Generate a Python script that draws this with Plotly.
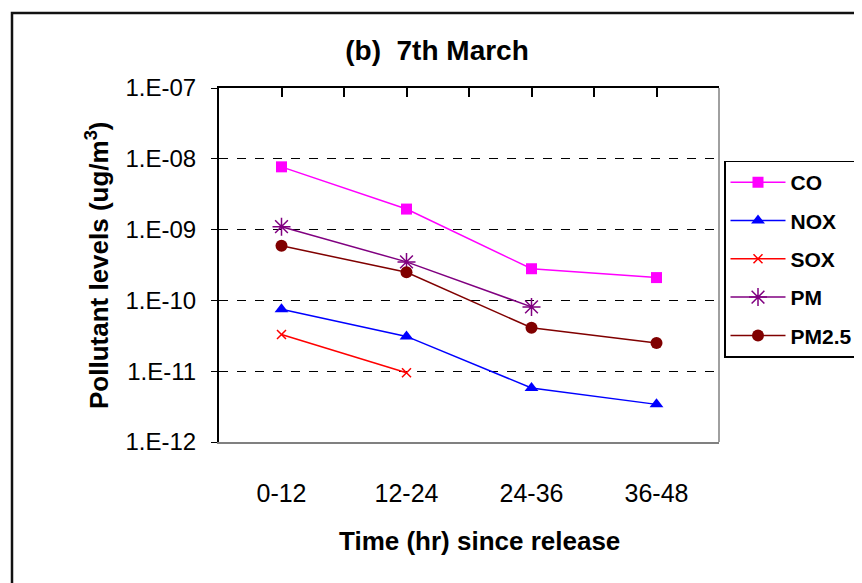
import plotly.graph_objects as go

categories = ["0-12", "12-24", "24-36", "36-48"]
co = [7.7e-9, 1.95e-9, 2.8e-10, 2.1e-10]
nox = [7.5e-11, 3.1e-11, 5.8e-12, 3.4e-12]
sox = [3.3e-11, 9.5e-12, None, None]
pm = [1.1e-9, 3.5e-10, 8.1e-11, None]
pm25 = [5.9e-10, 2.5e-10, 4.1e-11, 2.5e-11]

ytick_vals = [1e-12, 1e-11, 1e-10, 1e-9, 1e-8, 1e-7]
ytick_text = ["1.E-12", "1.E-11", "1.E-10", "1.E-09", "1.E-08", "1.E-07"]
top_tick_vals = [0, 0.5, 1, 1.5, 2, 2.5, 3]

FONT = "Liberation Sans, Arial, sans-serif"
OFF = 8  # page body margin

series = [
    ("CO", co, "#FF00FF", dict(symbol="square", size=11)),
    ("NOX", nox, "#0000FF", dict(symbol="triangle-up", size=12)),
    ("SOX", sox, "#FF0000", dict(symbol="x-thin-open", size=9, line=dict(width=1.5, color="#FF0000"))),
    ("PM", pm, "#800080", dict(symbol="asterisk-open", size=15, line=dict(width=1.5, color="#800080"))),
    ("PM2.5", pm25, "#800000", dict(symbol="circle", size=12)),
]

fig = go.Figure()
for i, (name, vals, color, mk) in enumerate(series):
    fig.add_trace(go.Scatter(
        x=categories, y=vals, name=name, mode="lines+markers",
        line=dict(color=color, width=1.5),
        marker=dict(color=color, **mk),
        legendgroup=f"g{i}", connectgaps=False,
    ))
# empty trace so the top (crossing) axis is drawn
fig.add_trace(go.Scatter(x=[], y=[], xaxis="x2", yaxis="y", showlegend=False,
                         hoverinfo="skip"))

fig.update_layout(
    width=862, height=583,
    paper_bgcolor="white", plot_bgcolor="white",
    margin=dict(l=219 - OFF, r=862 - 719 + OFF, t=88 - OFF, b=583 - 442 + OFF, autoexpand=False),
    font=dict(family=FONT, color="black"),
    title=dict(text="(b)&nbsp;&nbsp;7th March", x=0.436, xref="paper", xanchor="center",
               y=1 - (50 - OFF) / 583, yanchor="middle",
               font=dict(family=FONT, size=28, color="black", weight="bold")),
    xaxis=dict(type="category", range=[-0.5, 3.5], showline=True, linecolor="#808080",
               linewidth=1.5, ticks="", showgrid=False, zeroline=False,
               tickfont=dict(size=25), ticklabelstandoff=28),
    xaxis2=dict(overlaying="x", side="top", anchor="y", range=[-0.5, 3.5], showline=True,
                linecolor="black", linewidth=2, ticks="inside", ticklen=9, tickcolor="black",
                tickwidth=1.5,
                tickvals=top_tick_vals, showticklabels=False, showgrid=False, zeroline=False),
    yaxis=dict(type="log", range=[-12, -7], tickvals=ytick_vals, ticktext=ytick_text,
               showline=True, linecolor="black", linewidth=2, ticks="outside", ticklen=6,
               tickcolor="black", showgrid=True, gridcolor="black", griddash="dash",
               gridwidth=1, zeroline=False, tickfont=dict(size=24), ticklabelstandoff=10),
    showlegend=True,
    legend=dict(x=1.01, xanchor="left", y=0.795, yanchor="top",
                bordercolor="black", borderwidth=1.5, bgcolor="white",
                font=dict(family=FONT, size=21, color="black", weight="bold"),
                itemwidth=55, tracegroupgap=8, traceorder="grouped"),
    annotations=[
        dict(text="<b>Pollutant levels (ug/m<sup>3</sup>)</b>", textangle=-90,
             x=(97 - 219) / 500, y=0.5, xref="paper", yref="paper",
             xanchor="center", yanchor="middle", showarrow=False,
             font=dict(family=FONT, size=26, color="black")),
        dict(text="<b>Time (hr) since release</b>",
             x=(479 - 219) / 500, y=(442 - 541) / 354, xref="paper", yref="paper",
             xanchor="center", yanchor="middle", showarrow=False,
             font=dict(family=FONT, size=26, color="black")),
    ],
    shapes=[
        dict(type="line", xref="paper", yref="paper", x0=1, x1=1, y0=0, y1=1,
             line=dict(color="#808080", width=1.5)),
        dict(type="rect", xref="paper", yref="paper", x0=(12 - 219) / 500, x1=1.5,
             y0=-0.5, y1=(442 - 13) / 354, line=dict(color="#111111", width=2.5),
             layer="below"),
    ],
)

fig.write_html("out.html")
